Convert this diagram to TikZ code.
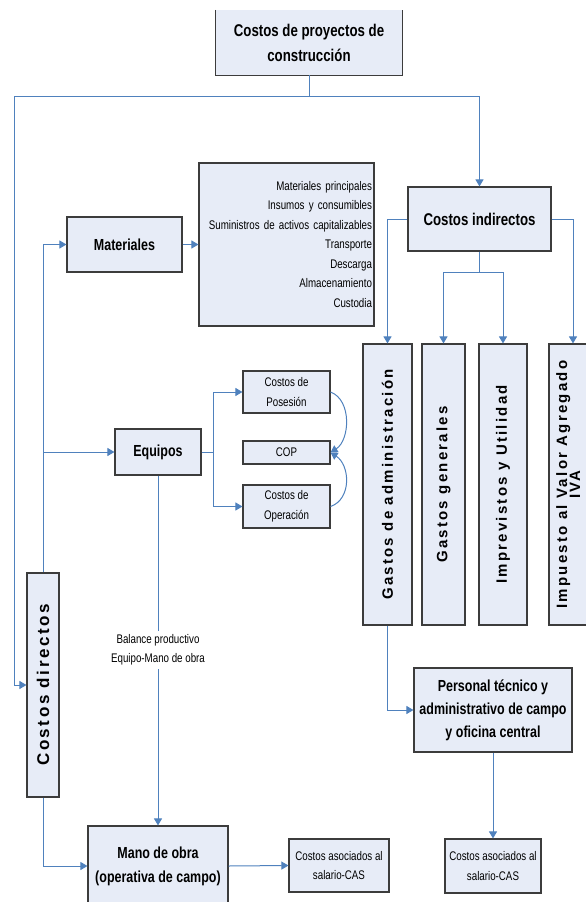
\documentclass[tikz,border=0pt]{standalone}
\usepackage{fontspec}
\setmainfont{Liberation Sans}
\newfontfamily\narfont[FakeStretch=0.78]{Liberation Sans}
\newfontfamily\spacedfont[LetterSpace=15]{Liberation Sans}
\usetikzlibrary{arrows.meta}
\definecolor{boxfill}{RGB}{231,236,247}
\definecolor{linkblue}{RGB}{79,129,189}
\definecolor{boxline}{RGB}{60,60,60}
\newcommand\fTitle{\narfont\bfseries\fontsize{17}{25}\selectfont}
\newcommand\fMain{\narfont\bfseries\fontsize{16}{24}\selectfont}
\newcommand\fPers{\narfont\bfseries\fontsize{16}{23}\selectfont}
\newcommand\fSmall{\narfont\fontsize{12.5}{19.5}\selectfont}
\newcommand\fVert{\spacedfont\bfseries\fontsize{15}{15}\selectfont}
\newcommand\fVertBig{\spacedfont\bfseries\fontsize{17}{17}\selectfont}
\tikzset{
  box/.style={draw=boxline, line width=1.1pt, fill=boxfill, inner sep=0pt, align=center, text=black},
  conn/.style={draw=linkblue, line width=1pt},
  arr/.style={conn, -{Triangle[length=7pt,width=8pt]}},
  lbl/.style={fill=white, inner sep=3pt, align=center, font=\fSmall}
}
\begin{document}
\begin{tikzpicture}[x=1pt,y=-1pt]
\useasboundingbox (0,0) rectangle (586,902);

% top box (top border cut off)
\node[fill=boxfill, inner sep=0pt, minimum width=186pt, minimum height=65pt, align=center, font=\fTitle] (top) at (309,42.5) {Costos de proyectos de\\construcción};
\draw[boxline, line width=1.1pt] (top.north west) -- (top.south west) -- (top.south east) -- (top.north east);

% direct branch
\node[box, minimum width=115pt, minimum height=55pt, font=\fMain] (mat) at (124.5,244.5) {Materiales};
\node[box, minimum width=175pt, minimum height=163pt, text width=171pt, align=right, font=\fSmall] (list) at (286.5,244.5)
  {Materiales principales\\Insumos y consumibles\\Suministros de activos capitalizables\\Transporte\\Descarga\\Almacenamiento\\Custodia};
\node[box, minimum width=86pt, minimum height=46pt, font=\fMain] (eq) at (158,452) {Equipos};
\node[box, minimum width=87pt, minimum height=42pt, font=\fSmall] (pos) at (286.5,392) {Costos de\\Posesión};
\node[box, minimum width=87pt, minimum height=23pt, font=\fSmall] (cop) at (286.5,452.5) {COP};
\node[box, minimum width=87pt, minimum height=43pt, font=\fSmall] (ope) at (286.5,506.5) {Costos de\\Operación};
\node[box, minimum width=32pt, minimum height=224pt] (cd) at (43,685) {\rotatebox{90}{\fVertBig Costos directos}};
\node[box, minimum width=140pt, minimum height=80pt, font=\fMain] (mano) at (158,866) {Mano de obra\\(operativa de campo)};
\node[box, minimum width=100pt, minimum height=53pt, font=\fSmall] (cas1) at (339,865.5) {Costos asociados al\\salario-CAS};

% indirect branch
\node[box, minimum width=143pt, minimum height=64pt, font=\fTitle] (ci) at (479.5,219) {Costos indirectos};
\node[box, minimum width=49pt, minimum height=281pt] (ga) at (387.5,484.5) {\rotatebox{90}{\fVert Gastos de administración}};
\node[box, minimum width=43pt, minimum height=281pt] (gg) at (443.5,484.5) {\rotatebox{90}{\fVert Gastos generales}};
\node[box, minimum width=48pt, minimum height=281pt] (imp) at (503,484.5) {\rotatebox{90}{\fVert Imprevistos y Utilidad}};
\node[box, minimum width=52pt, minimum height=281pt] (iva) at (575,484.5) {};
\node[inner sep=0pt] (ivatext) at (570.5,484.5) {\rotatebox{90}{\fVert\begin{tabular}{@{}c@{}}Impuesto al Valor Agregado\\[-2pt]IVA\end{tabular}}};
\node[box, minimum width=158pt, minimum height=84pt, font=\fPers] (pers) at (493,710) {Personal técnico y\\administrativo de campo\\y oficina central};
\node[box, minimum width=96pt, minimum height=54pt, font=\fSmall] (cas2) at (493,866) {Costos asociados al\\salario-CAS};

% connectors
\coordinate (j0) at (309,96.5);
\coordinate (jl) at (14,96.5);
\coordinate (jr) at (479.5,96.5);
\coordinate (ivaj) at (573,219);
\coordinate (cib) at (479.5,272);
\draw[conn] (top.south) -- (j0);
\draw[conn] (jl) -- (jr);
\draw[arr] (jr) -- (ci.north);
\draw[arr] (jl) -- (jl |- cd.west) -- (cd.west);

\draw[arr] (cd.north) -- (cd.north |- mat.west) -- (mat.west);
\draw[arr] (cd.north |- eq.west) -- (eq.west);
\draw[arr] (cd.south) -- (cd.south |- mano.west) -- (mano.west);
\draw[arr] (mat.east) -- (list.west |- mat.east);

\coordinate (eb) at (213,452);
\draw[conn] (eq.east) -- (eb);
\draw[arr] (eb) |- (pos.west);
\draw[arr] (eb) |- (ope.west);
\draw[arr] (pos.east) .. controls (352,400) and (350,440) .. (cop.east);
\draw[arr] (ope.east) .. controls (352,499) and (350,465) .. (cop.east);
\draw[arr] (eq.south) -- node[lbl, pos=0.4986] {Balance productivo\\Equipo-Mano de obra} (mano.north);
\draw[arr] (mano.east) -- (cas1.west);

\draw[arr] (ci.west) -- (ci.west -| ga.north) -- (ga.north);
\draw[arr] (ci.east) -- (ivaj) -- (ivaj |- iva.north);
\draw[conn] (ci.south) -- (cib);
\draw[arr] (cib) -| (gg.north);
\draw[arr] (cib) -| (imp.north);
\draw[arr] (ga.south) |- (pers.west);
\draw[arr] (pers.south) -- (cas2.north);
\end{tikzpicture}
\end{document}
